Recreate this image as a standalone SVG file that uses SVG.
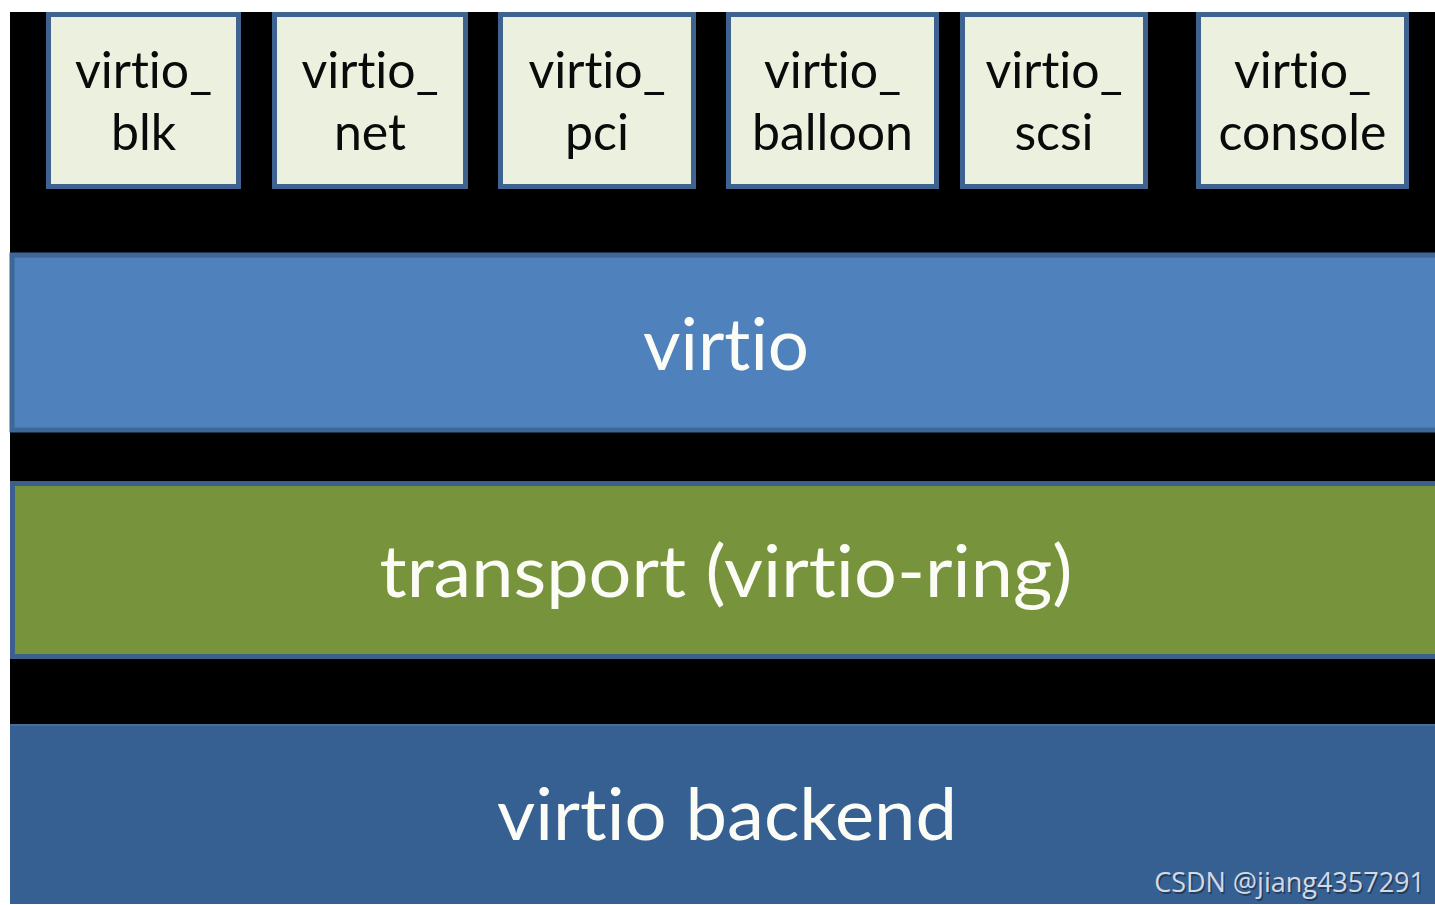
<svg xmlns="http://www.w3.org/2000/svg" width="1435" height="905" viewBox="0 0 1435 905">
<style>
text{font-variant-ligatures:none;font-feature-settings:"liga" 0,"clig" 0,"dlig" 0}
.box rect{fill:#ebf0df;stroke:#3f6391;stroke-width:5}
.box text{font-family:Lato,"Open Sans","Liberation Sans",sans-serif;font-size:50px;fill:#0a0a0a;text-anchor:middle}
.big{font-family:Lato,"Open Sans","Liberation Sans",sans-serif;font-size:72px;fill:#fbfcf6;text-anchor:middle}
</style>
<rect x="0" y="0" width="1435" height="905" fill="#ffffff"/>
<rect x="10" y="12" width="1425" height="892" fill="#000000"/>
<g id="virtio_blk" class="box"><rect x="48.5" y="14.5" width="190" height="172"/><text x="143.5" y="88">virtio_</text><text x="143.5" y="150">blk</text></g>
<g id="virtio_net" class="box"><rect x="274.5" y="14.5" width="191" height="172"/><text x="370" y="88">virtio_</text><text x="370" y="150">net</text></g>
<g id="virtio_pci" class="box"><rect x="500.5" y="14.5" width="193" height="172"/><text x="597" y="88">virtio_</text><text x="597" y="150">pci</text></g>
<g id="virtio_balloon" class="box"><rect x="728.5" y="14.5" width="208" height="172"/><text x="832.5" y="88">virtio_</text><text x="832.5" y="150">balloon</text></g>
<g id="virtio_scsi" class="box"><rect x="962.5" y="14.5" width="183" height="172"/><text x="1054" y="88">virtio_</text><text x="1054" y="150">scsi</text></g>
<g id="virtio_console" class="box"><rect x="1198.5" y="14.5" width="208" height="172"/><text x="1302.5" y="88">virtio_</text><text x="1302.5" y="150">console</text></g>
<g id="virtio">
<rect x="12" y="255" width="1430" height="175" fill="#4f81bd" stroke="#3d6796" stroke-width="5"/>
<text class="big" x="726" y="370" textLength="166" lengthAdjust="spacingAndGlyphs">virtio</text>
</g>
<g id="transport">
<rect x="12.5" y="483.5" width="1430" height="173" fill="#77933c" stroke="#3d5f8e" stroke-width="5"/>
<text class="big" x="726" y="597" textLength="693" lengthAdjust="spacingAndGlyphs">transport (virtio-ring)</text>
</g>
<g id="virtio_backend">
<rect x="10" y="724" width="1425" height="180" fill="#366092"/>
<line x1="10" y1="725" x2="1435" y2="725" stroke="#4a6d98" stroke-width="2"/>
<text class="big" x="727" y="840" textLength="460" lengthAdjust="spacingAndGlyphs">virtio backend</text>
</g>
<g id="connectors"></g>
<text x="1425" y="892" font-family="'Open Sans','Noto Sans',sans-serif" font-size="27" fill="#111a26" fill-opacity="0.5" text-anchor="end" transform="translate(1.5,1.5)">CSDN @jiang4357291</text>
<text x="1425" y="892" font-family="'Open Sans','Noto Sans',sans-serif" font-size="27" fill="#d3dae4" text-anchor="end">CSDN @jiang4357291</text>
</svg>
